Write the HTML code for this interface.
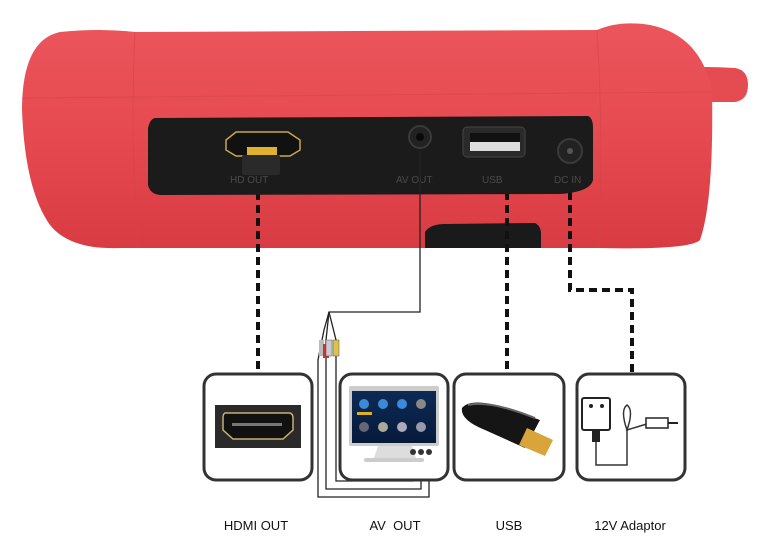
<!DOCTYPE html>
<html><head><style>
html,body{margin:0;padding:0;background:#fff;width:758px;height:539px;overflow:hidden}
svg{display:block}
text{font-family:"Liberation Sans",Arial,sans-serif}
</style></head><body>
<svg width="758" height="539" viewBox="0 0 758 539" xmlns="http://www.w3.org/2000/svg">
<defs>
<linearGradient id="red" x1="0" y1="0" x2="0" y2="1">
<stop offset="0" stop-color="#ea555b"/><stop offset="0.5" stop-color="#e64a50"/><stop offset="1" stop-color="#d83c42"/>
</linearGradient>
<linearGradient id="scr" x1="0" y1="0" x2="0" y2="1"><stop offset="0" stop-color="#0d2a55"/><stop offset="1" stop-color="#071a3a"/></linearGradient>
</defs>
<!-- device -->
<path d="M690 68 Q700 66 735 68 Q748 70 748 85 Q748 100 735 102 L700 102 Z" fill="#e44c52"/>
<path d="M60 32 Q100 28 135 32 L597 30 Q620 20 650 25 Q700 35 712 90 Q714 200 700 240 Q690 250 600 248 L120 248 Q70 250 50 225 Q25 190 22 110 Q22 40 60 32 Z" fill="url(#red)"/>
<path d="M22 98 L712 92" stroke="#d5454b" stroke-width="1" fill="none" opacity="0.6"/>
<path d="M135 32 Q130 140 138 248" stroke="#d2444a" stroke-width="1" fill="none" opacity="0.6"/>
<path d="M597 30 Q604 140 598 248" stroke="#d2444a" stroke-width="1" fill="none" opacity="0.6"/>
<path d="M425 248 L425 232 Q430 224 445 224 L535 223 Q541 226 541 234 L541 248 Z" fill="#1a1a1a"/>
<!-- connectors (behind panel) -->
<g stroke="#111" stroke-width="4" stroke-dasharray="8,5" fill="none">
<line x1="258" y1="192" x2="258" y2="373"/>
<line x1="507" y1="192" x2="507" y2="372"/>
<polyline points="570,192 570,290 632,290 632,372"/>
</g>
<path d="M155 118 L588 116 Q593 118 593 128 L593 180 Q590 192 560 194 L160 195 Q150 194 148 185 L148 128 Q150 119 155 118 Z" fill="#1b1b1b"/>
<!-- HDMI port -->
<path d="M236 132 L288 132 L300 140 L300 150 L290 156 L236 156 L226 150 L226 140 Z" fill="#111" stroke="#c9a848" stroke-width="1.5"/>
<rect x="247" y="147" width="30" height="9" fill="#e0b030"/>
<rect x="242" y="155" width="38" height="20" rx="2" fill="#2a2a2a"/>
<text x="230" y="183" font-size="10" fill="#4a4a4a">HD   OUT</text>
<!-- AV jack -->
<circle cx="420" cy="137" r="11" fill="#222" stroke="#3a3a3a" stroke-width="2"/>
<circle cx="420" cy="137" r="4" fill="#0a0a0a"/>
<text x="396" y="183" font-size="10" fill="#4a4a4a">AV OUT</text>
<!-- USB -->
<rect x="463" y="127" width="62" height="30" rx="4" fill="#2a2a2a" stroke="#444"/>
<rect x="470" y="133" width="50" height="18" fill="#111"/>
<rect x="470" y="142" width="50" height="9" fill="#ddd"/>
<text x="482" y="183" font-size="10" fill="#4a4a4a">USB</text>
<!-- DC -->
<circle cx="570" cy="151" r="12" fill="#222" stroke="#3a3a3a" stroke-width="2"/>
<circle cx="570" cy="151" r="3" fill="#555"/>
<text x="554" y="183" font-size="10" fill="#4a4a4a">DC  IN</text>
<g stroke="#222" stroke-width="1.3" fill="none">
<polyline points="420,150 420,312 329,312 324,330 318,360 318,497 429,497 429,455"/>
<polyline points="329,312 326,340 326,489 421,489 421,455"/>
<polyline points="329,312 336,340 336,481 413,481 413,455"/>
</g>
<rect x="319" y="340" width="5" height="16" fill="#bbb"/><rect x="323" y="344" width="6" height="14" fill="#c33"/>
<rect x="326" y="340" width="6" height="16" fill="#ccc" stroke="#555" stroke-width="0.5"/>
<rect x="333" y="340" width="6" height="16" fill="#dcc24a" stroke="#555" stroke-width="0.5"/>
<!-- boxes -->
<g fill="#fff" stroke="#333" stroke-width="3">
<rect x="204" y="374" width="108" height="106" rx="12"/>
<rect x="340" y="374" width="108" height="106" rx="12"/>
<rect x="454" y="374" width="110" height="106" rx="12"/>
<rect x="577" y="374" width="108" height="106" rx="12"/>
</g>
<!-- HDMI image -->
<rect x="215" y="405" width="86" height="43" fill="#2a2a2a"/>
<path d="M225 413 L290 413 Q293 414 293 418 L293 430 L283 439 L233 439 L223 430 L223 418 Q223 414 225 413 Z" fill="#111" stroke="#c8b070" stroke-width="1.5"/>
<rect x="232" y="423" width="50" height="3" fill="#777"/>
<!-- monitor -->
<rect x="349" y="386" width="90" height="60" rx="2" fill="#ccc"/>
<rect x="352" y="391" width="84" height="52" fill="url(#scr)"/>
<g fill="#3a8ad8"><circle cx="364" cy="404" r="5"/><circle cx="383" cy="404" r="5"/><circle cx="402" cy="404" r="5"/><circle cx="421" cy="404" r="5" fill="#888"/>
<circle cx="364" cy="427" r="5" fill="#667"/><circle cx="383" cy="427" r="5" fill="#aa9"/><circle cx="402" cy="427" r="5" fill="#aab"/><circle cx="421" cy="427" r="5" fill="#99a"/></g>
<rect x="357" y="412" width="15" height="3" fill="#e0b020"/>
<path d="M378 446 L412 446 L416 458 L374 458 Z" fill="#ddd"/>
<rect x="364" y="458" width="60" height="4" rx="2" fill="#ccc"/>
<g fill="#333"><circle cx="413" cy="452" r="3"/><circle cx="421" cy="452" r="3"/><circle cx="429" cy="452" r="3"/></g>
<!-- USB stick -->
<path d="M462 408 Q470 398 500 406 L540 420 L525 448 L485 430 Q460 420 462 408 Z" fill="#151515"/>
<path d="M468 405 Q490 400 535 418" stroke="#666" stroke-width="2" fill="none"/>
<path d="M527 428 L553 440 L545 456 L519 445 Z" fill="#d9a53a"/>
<!-- adaptor -->
<rect x="582" y="398" width="28" height="32" rx="2" fill="#fff" stroke="#222" stroke-width="2"/>
<circle cx="591" cy="406" r="2" fill="#222"/><circle cx="602" cy="406" r="2" fill="#222"/>
<rect x="592" y="430" width="8" height="12" fill="#222"/>
<polyline points="596,442 596,465 627,465 627,430" stroke="#333" stroke-width="1.5" fill="none"/>
<path d="M627 430 Q620 410 627 405 Q634 410 627 430 L650 423" stroke="#333" stroke-width="1.5" fill="none"/>
<rect x="646" y="418" width="22" height="10" fill="#fff" stroke="#222" stroke-width="1.5"/>
<line x1="668" y1="423" x2="678" y2="423" stroke="#222" stroke-width="2"/>
<!-- labels -->
<g font-size="13" fill="#111" text-anchor="middle">
<text x="256" y="530">HDMI OUT</text>
<text x="395" y="530" xml:space="preserve">AV  OUT</text>
<text x="509" y="530">USB</text>
<text x="630" y="530">12V Adaptor</text>
</g>
</svg>
</body></html>
